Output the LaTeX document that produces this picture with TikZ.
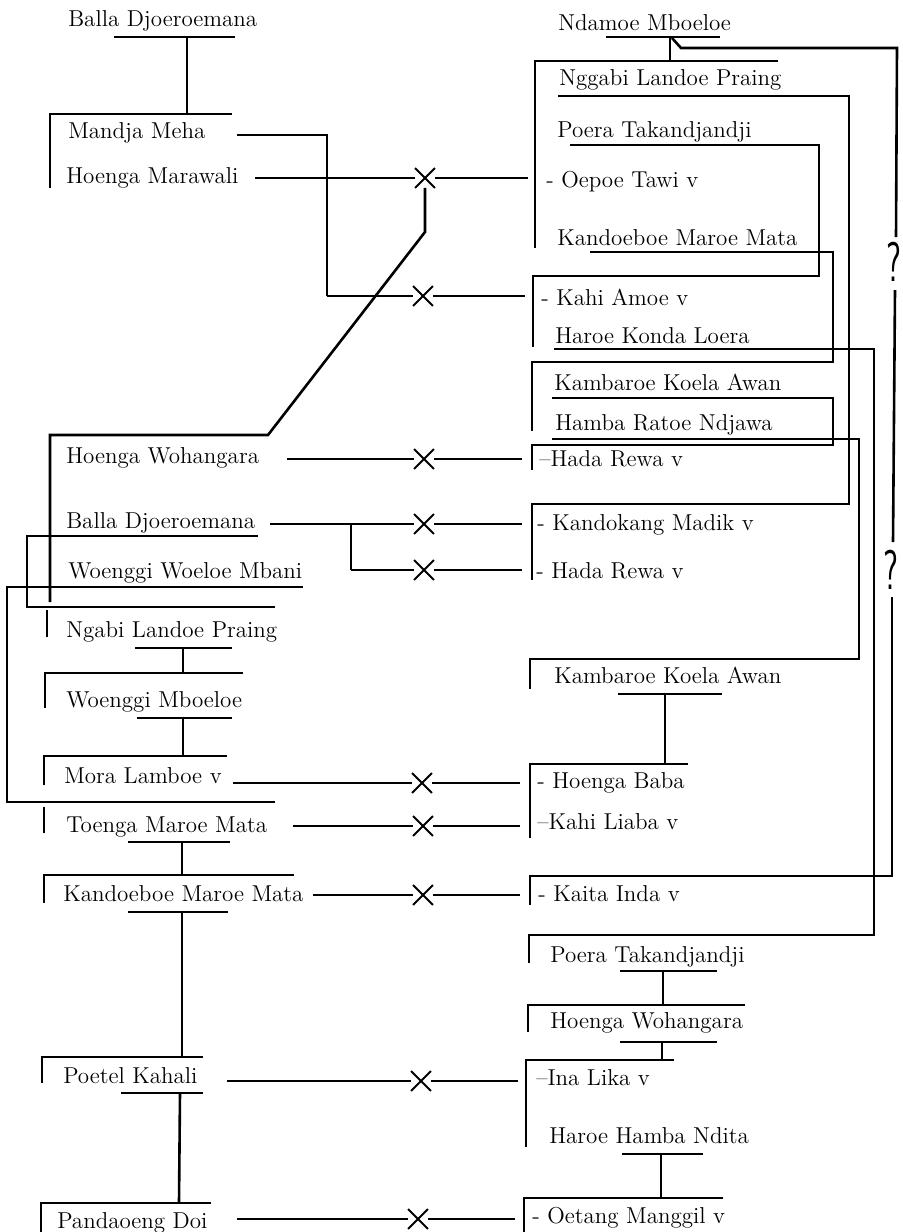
\documentclass[tikz,border=0pt]{standalone}
\usetikzlibrary{shapes.misc}
\begin{document}
\begin{tikzpicture}[x=0.5pt,y=-0.5pt,line width=1.3pt,
  nm/.style={anchor=base west,inner sep=0pt,font=\fontsize{11.5}{14}\selectfont},
  xm/.style={cross out,draw,minimum size=9pt,inner sep=0pt,line width=0.9pt},
  qm/.style={inner sep=0pt,font=\sffamily\fontsize{28}{28}\selectfont}]
\useasboundingbox (0,0) rectangle (902,1232);

\node[nm] (lbd) at (67,26) {Balla Djoeroemana};
\node[nm] (lmm) at (67,138) {Mandja Meha};
\node[nm] (lhm) at (65,183) {Hoenga Marawali};
\node[nm] (lhw) at (65,463) {Hoenga Wohangara};
\node[nm] (lbd2) at (65,528) {Balla Djoeroemana};
\node[nm] (lww) at (67,578) {Woenggi Woeloe Mbani};
\node[nm] (lnl) at (65,637) {Ngabi Landoe Praing};
\node[nm] (lwm) at (65,707) {Woenggi Mboeloe};
\node[nm] (lml) at (63,783) {Mora Lamboe v};
\node[nm] (ltm) at (65,832) {Toenga Maroe Mata};
\node[nm] (lkm) at (62,901) {Kandoeboe Maroe Mata};
\node[nm] (lpk) at (62,1083) {Poetel Kahali};
\node[nm] (lpd) at (56,1228) {Pandaoeng Doi};

\node[nm] (rnm) at (557,30) {Ndamoe Mboeloe};
\node[nm] (rnl) at (558,85) {Nggabi Landoe Praing};
\node[nm] (rpt) at (556,137) {Poera Takandjandji};
\node[nm] (rot) at (545,187) {- Oepoe Tawi v};
\node[nm] (rkm) at (556,245) {Kandoeboe Maroe Mata};
\node[nm] (rka) at (540,305) {- Kahi Amoe v};
\node[nm] (rhk) at (554,343) {Haroe Konda Loera};
\node[nm] (rkk) at (553,390) {Kambaroe Koela Awan};
\node[nm] (rhr) at (554,430) {Hamba Ratoe Ndjawa};
\node[nm] (rhd) at (538,466) {--Hada Rewa v};
\node[nm] (rkd) at (536,530) {- Kandokang Madik v};
\node[nm] (rhd2) at (535,578) {- Hada Rewa v};
\node[nm] (rkk2) at (553,683) {Kambaroe Koela Awan};
\node[nm] (rhb) at (536,788) {- Hoenga Baba};
\node[nm] (rkl) at (536,829) {--Kahi Liaba v};
\node[nm] (rki) at (537,901) {- Kaita Inda v};
\node[nm] (rpt2) at (549,962) {Poera Takandjandji};
\node[nm] (rhw) at (549,1028) {Hoenga Wohangara};
\node[nm] (ril) at (535,1085) {--Ina Lika v};
\node[nm] (rhh) at (548,1143) {Haroe Hamba Ndita};
\node[nm] (rom) at (531,1223) {- Oetang Manggil v};

\foreach \i/\xx/\y/\a/\b in {1/425/178/255/528, 2/423/296/327/525, 3/424/459/287/522,
    4/424/524/270/522, 5/424/570/351/522, 6/422/783/233/520, 7/423/826/293/520,
    8/423/895/313/520, 9/421/1081/227/518, 10/418/1219/237/515}{
  \coordinate (xa\i) at (\a,\y);
  \coordinate (xb\i) at (\b,\y);
  \node[xm] (x\i) at (\xx,\y) {};
  \draw (xa\i) -- (x\i) -- (xb\i);
}
\coordinate (mme) at (237,135);
\coordinate (bdb) at (351,524);
\draw (mme) -| (xa2);
\draw (bdb) -- (xa5);
\draw (x1) -- (425,232) -- (268,435) -| (50,602);

\draw (114,37) -- (235,37);
\draw (187,37) -- (187,114);
\draw (232,114) -| (50,188);
\draw (258,536) -| (27,607) -- (275,607);
\draw (303,587) -| (7,802) -- (275,802);
\draw (47,610) -- (47,637);
\draw (135,648) -- (232,648);
\draw (183,648) -- (183,673);
\draw (243,673) -| (45,708);
\draw (137,718) -- (232,718);
\draw (183,718) -- (183,756);
\draw (227,756) -| (44,785);
\draw (44,807) -- (44,833);
\draw (128,842) -- (230,842);
\draw (182,842) -- (182,875);
\draw (294,875) -| (44,903);
\draw (128,912) -- (228,912);
\draw (182,912) -- (182,1057);
\draw (203,1057) -| (42,1083);
\draw (121,1093) -- (203,1093);
\draw (180,1093) -- (179,1203);
\draw (211,1203) -| (41,1232);

\draw (606,37) -- (720,37);
\draw (670,37) -- (670,61);
\draw (778,61) -| (535,248);
\draw (672,38) -- (681,48) -- (897,48) -- (896,237);
\node[qm] (q1) at (894,262) {\scalebox{0.6}[1]{?}};
\draw (895,290) -- (893,542);
\node[qm] (q2) at (891,570) {\scalebox{0.6}[1]{?}};
\draw (892,597) -- (892,876) -| (530,905);
\draw (558,96) -| (849,504) -| (532,580);
\draw (570,145) -| (819,276) -| (533,347);
\draw (590,252) -| (833,362) -| (532,431);
\draw (554,349) -| (874,935) -| (529,963);
\draw (552,398) -| (833,445) -| (532,470);
\draw (552,439) -| (859,659) -| (530,689);
\draw (618,694) -- (722,694);
\draw (665,694) -- (665,764);
\draw (688,764) -| (530,838);
\draw (620,971) -- (717,971);
\draw (663,971) -- (663,1005);
\draw (745,1005) -| (528,1032);
\draw (620,1042) -- (717,1042);
\draw (662,1042) -- (662,1060);
\draw (674,1060) -| (526,1147);
\draw (622,1154) -- (703,1154);
\draw (661,1154) -- (661,1198);
\draw (723,1198) -| (524,1232);
\end{tikzpicture}
\end{document}
